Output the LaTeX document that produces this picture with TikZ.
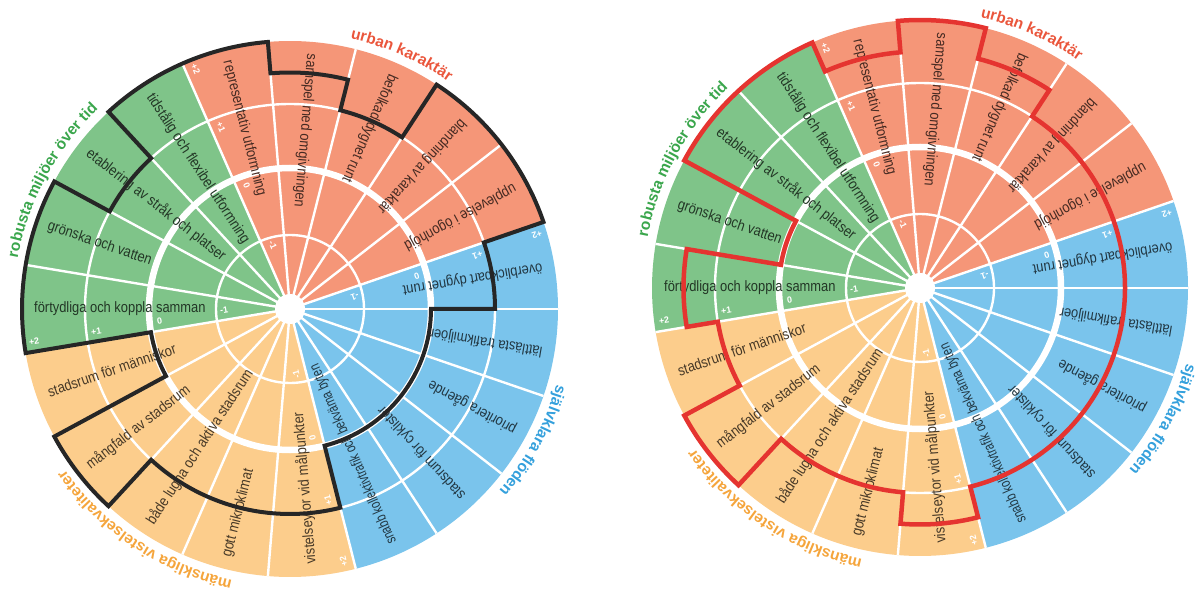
\documentclass[tikz,border=0pt]{standalone}
\usepackage{fontspec}
\setmainfont{Liberation Sans}
\newfontfamily\segfont[FakeStretch=0.86]{Liberation Sans}
\usetikzlibrary{decorations.text}

\definecolor{fillurb}{RGB}{245,150,120}
\definecolor{fillrob}{RGB}{127,196,137}
\definecolor{fillflo}{RGB}{122,196,236}
\definecolor{fillvis}{RGB}{252,205,140}
\definecolor{titleurb}{RGB}{234,86,60}
\definecolor{titlerob}{RGB}{58,166,76}
\definecolor{titleflo}{RGB}{52,160,220}
\definecolor{titlevis}{RGB}{245,165,60}
\colorlet{texturb}{fillurb!28!black}
\colorlet{textrob}{fillrob!28!black}
\colorlet{textflo}{fillflo!28!black}
\colorlet{textvis}{fillvis!28!black}
\definecolor{lineblack}{RGB}{38,38,38}
\definecolor{linered}{RGB}{229,52,48}

\newcommand\sstep{18.947368}
\newlength\seglen
\newcommand\fitlabel[1]{\settowidth\seglen{#1}\ifdim\seglen>195pt\resizebox{195pt}{\height}{#1}\else#1\fi}

\newcommand\segments{0/flo/{överblickbart dygnet runt},1/urb/{upplevelse i ögonhöjd},2/urb/{blandning av karaktär},3/urb/{befolkad dygnet runt},4/urb/{samspel med omgivningen},5/urb/{representativ utformning},6/rob/{tidstålig och flexibel utformning},7/rob/{etablering av stråk och platser},8/rob/{grönska och vatten},9/rob/{förtydliga och koppla samman},10/vis/{stadsrum för människor},11/vis/{mångfald av stadsrum},12/vis/{både lugna och aktiva stadsrum},13/vis/{gott mikroklimat},14/vis/{vistelseytor vid målpunkter},15/flo/{snabb kollektivtrafik och bekväma byten},16/flo/{stadsrum för cyklister},17/flo/{prioritera gående},18/flo/{lättlästa trafikmiljöer}}

\tikzset{
  seglabel/.style={font=\segfont\fontsize{15}{15}\selectfont, inner sep=0pt, anchor=west},
  scalelabel/.style={font=\bfseries\fontsize{9}{9}\selectfont, text=white, inner sep=0pt},
  whiteline/.style={draw=white, line width=2.4pt},
  blackoutline/.style={draw=lineblack, line width=4pt, line join=miter},
  redoutline/.style={draw=linered, line width=4.5pt, line join=miter},
  cattitle/.style n args={2}{decorate, decoration={text along path, text align=center,
    text color=#2, text={|\bfseries\fontsize{15.5}{15.5}\selectfont|#1}}}
}

\newcommand\wheel[5]{%
  \begin{scope}[shift={#2}]
    \foreach \k/\cat/\txt in \segments
      \fill[fill\cat] (0,0) -- ({\k*\sstep}:268pt) arc[start angle={\k*\sstep}, end angle={(\k+1)*\sstep}, radius=268pt] -- cycle;
    \foreach \k in {0,...,18}
      \draw[whiteline] (0,0) -- ({\k*\sstep}:268pt);
    \draw[whiteline] (0,0) circle[radius=74pt];
    \draw[whiteline, line width=6.5pt] (0,0) circle[radius=141pt];
    \draw[whiteline] (0,0) circle[radius=205pt];
    \fill[white] (0,0) circle[radius=15pt];
    \foreach \k/\cat/\txt in \segments
      \node[seglabel, text=text\cat, rotate={(\k+0.5)*\sstep+180}] (#1-\k) at ({(\k+0.5)*\sstep}:256pt) {\fitlabel{\txt}};
    \foreach \b [count=\i] in {18.947,113.684,189.474,284.211}
      \foreach \r/\lab [count=\j] in {258/+2,195/+1,131/0,66/-1}
        \node[scalelabel, rotate=\b+180] (#1-m\i\j) at ({\b-atan(10/\r)}:\r pt) {\lab};
    \draw[#5] (0:#3pt) arc[start angle=0, end angle=\sstep, radius=#3pt]
      \foreach \k/\r in {#4} { -- ({\k*\sstep}:\r pt) arc[start angle={\k*\sstep}, end angle={(\k+1)*\sstep}, radius=\r pt] } -- cycle;
    \path[cattitle={urban karaktär}{titleurb}] (111.3:277pt) arc[start angle=111.3, end angle=21.3, radius=277pt];
    \path[cattitle={robusta miljöer över tid}{titlerob}] (196.6:277pt) arc[start angle=196.6, end angle=106.6, radius=277pt];
    \path[cattitle={mänskliga vistelsekvaliteter}{titlevis}] (281.8:277pt) arc[start angle=281.8, end angle=191.8, radius=277pt];
    \path[cattitle={självklara flöden}{titleflo}] (376.6:277pt) arc[start angle=376.6, end angle=286.6, radius=277pt];
  \end{scope}}

\begin{document}
\begin{tikzpicture}[x=1pt, y=1pt]
  \useasboundingbox (0,0) rectangle (1201,-593);
  \wheel{L}{(290,-309)}{205}{1/268,2/268,3/205,4/236.5,5/268,6/268,7/205,8/268,9/268,10/141,11/268,12/205,13/205,14/205,15/141,16/141,17/141,18/141}{blackoutline}
  \wheel{R}{(920,-288)}{205}{1/205,2/205,3/236.5,4/268,5/236.5,6/268,7/268,8/141,9/236.5,10/205,11/268,12/205,13/205,14/236.5,15/205,16/205,17/205,18/205}{redoutline}
\end{tikzpicture}
\end{document}
